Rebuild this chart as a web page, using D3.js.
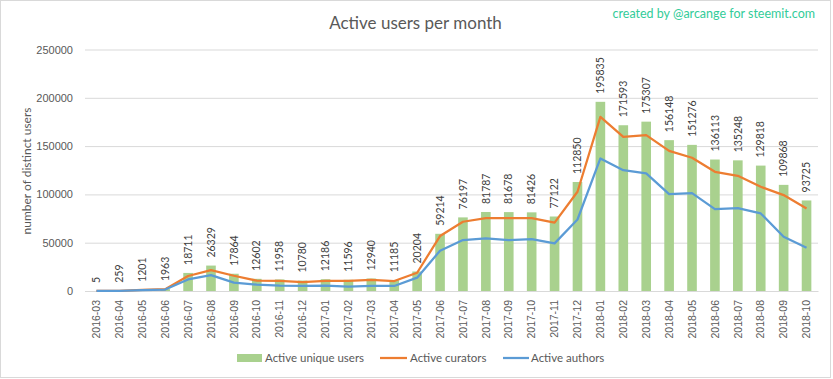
<!DOCTYPE html>
<html><head><meta charset="utf-8">
<script src="https://cdn.jsdelivr.net/npm/d3@7"></script>
<style>
html,body{margin:0;padding:0;background:#fff;}
svg{display:block;font-family:Lato, "Open Sans", sans-serif;}
</style></head>
<body><svg id="c" width="833" height="379"></svg>
<script>
const months = ["2016-03","2016-04","2016-05","2016-06","2016-07","2016-08","2016-09","2016-10","2016-11","2016-12","2017-01","2017-02","2017-03","2017-04","2017-05","2017-06","2017-07","2017-08","2017-09","2017-10","2017-11","2017-12","2018-01","2018-02","2018-03","2018-04","2018-05","2018-06","2018-07","2018-08","2018-09","2018-10"];
const uniqueUsers = [5,259,1201,1963,18711,26329,17864,12602,11958,10780,12186,11596,12940,11185,20204,59214,76197,81787,81678,81426,77122,112850,195835,171593,175307,156148,151276,136113,135248,129818,109868,93725];
const curators = [5,250,1150,1900,15500,21700,15800,10700,10400,9300,10400,10400,11400,10300,18900,56900,71700,75500,75500,75500,70700,102700,180200,159600,161300,145100,137900,123400,119200,107900,99300,85500];
const authors = [5,200,900,1500,12000,16500,8600,6500,5500,5200,5500,4500,5300,5200,13800,41700,52700,54500,52700,53800,49300,74000,137200,125100,121700,100300,101300,84800,85800,80300,56200,44800];
const yTicks = [0,50000,100000,150000,200000,250000];

(function(){
const svg = d3.select("#c");
const W = 833, H = 379;
const pL = 85, pR = 818, pT = 49.5, pB = 291;
const textCol = "#595959";

svg.append("rect").attr("x",0.5).attr("y",0.5).attr("width",W-3).attr("height",H-2)
  .attr("fill","#fff").attr("stroke","#d9d9d9");

const x = d3.scaleBand().domain(months).range([pL,pR]).paddingInner(0.58).paddingOuter(0.29);
const y = d3.scaleLinear().domain([0,250000]).range([pB,pT]);

const yAxis = d3.axisLeft(y).tickValues(yTicks).tickSize(-(pR-pL)).tickPadding(12).tickFormat(d3.format("d"));
const gy = svg.append("g").attr("transform",`translate(${pL},0)`).call(yAxis);
gy.select(".domain").remove();
gy.selectAll(".tick line").attr("stroke","#d9d9d9");
gy.selectAll(".tick text").attr("fill",textCol).attr("font-size","11px").attr("x",-12);

svg.append("g").selectAll("rect").data(uniqueUsers).join("rect")
  .attr("x",(d,i)=>x(months[i])).attr("width",x.bandwidth())
  .attr("y",d=>y(d)).attr("height",d=>pB-y(d)).attr("fill","#a9d18e");

const xAxis = d3.axisBottom(x).tickSize(0).tickPadding(0);
const gx = svg.append("g").attr("transform",`translate(0,${pB})`).call(xAxis);
gx.select(".domain").attr("stroke","#d9d9d9");
gx.selectAll(".tick text").attr("fill",textCol).attr("font-size","10.5px")
  .attr("transform","rotate(-90)").attr("text-anchor","end").attr("x",-9).attr("y",0).attr("dy","0.35em");

const cx = (d,i)=>x(months[i])+x.bandwidth()/2;
const line = d3.line().x(cx).y(d=>y(d));
svg.append("path").datum(curators).attr("d",line).attr("fill","none").attr("stroke","#ed7d31").attr("stroke-width",2.25).attr("stroke-linejoin","round");
svg.append("path").datum(authors).attr("d",line).attr("fill","none").attr("stroke","#5b9bd5").attr("stroke-width",2.25).attr("stroke-linejoin","round");

svg.append("g").selectAll("text").data(uniqueUsers).join("text")
  .attr("transform",(d,i)=>`translate(${cx(d,i)},${y(d)-8}) rotate(-90)`)
  .attr("dy","0.35em").attr("fill","#404040").attr("font-size","10.5px").text(d=>d);

svg.append("text").attr("x",415.5).attr("y",29).attr("text-anchor","middle")
  .attr("fill",textCol).attr("font-size","17px").text("Active users per month");
svg.append("text").attr("x",815).attr("y",18).attr("text-anchor","end")
  .attr("fill","#33cc99").attr("font-size","12.5px").text("created by @arcange for steemit.com");

svg.append("text").attr("transform","translate(27,171) rotate(-90)").attr("text-anchor","middle")
  .attr("dy","0.35em").attr("fill",textCol).attr("font-size","12px").text("number of distinct users");

const lg = svg.append("g").attr("font-size","11.5px").attr("fill",textCol);
const ly = 358;
lg.append("rect").attr("x",237).attr("y",ly-4).attr("width",25).attr("height",8).attr("fill","#a9d18e");
lg.append("text").attr("x",265).attr("y",ly).attr("dy","0.35em").text("Active unique users");
lg.append("line").attr("x1",380).attr("x2",407).attr("y1",ly).attr("y2",ly).attr("stroke","#ed7d31").attr("stroke-width",2.25);
lg.append("text").attr("x",410).attr("y",ly).attr("dy","0.35em").text("Active curators");
lg.append("line").attr("x1",503).attr("x2",529).attr("y1",ly).attr("y2",ly).attr("stroke","#5b9bd5").attr("stroke-width",2.25);
lg.append("text").attr("x",531).attr("y",ly).attr("dy","0.35em").text("Active authors");
})();
</script></body></html>
